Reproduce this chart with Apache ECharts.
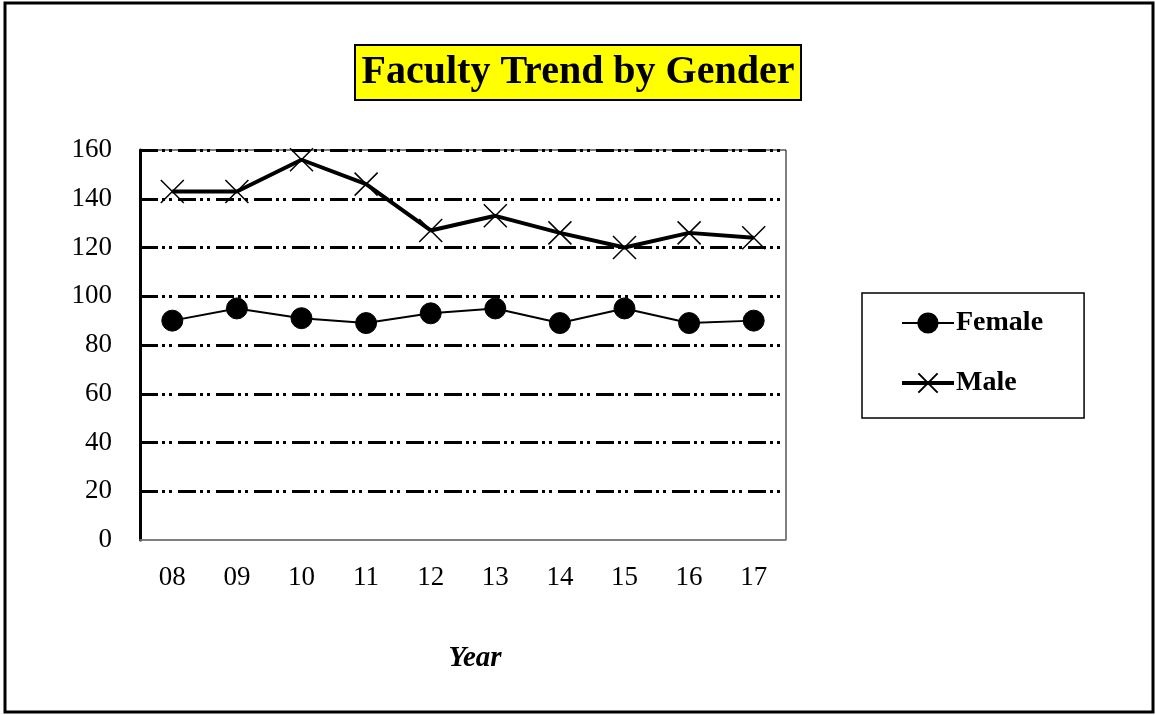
<!DOCTYPE html>
<html>
<head>
<meta charset="utf-8">
<title>Faculty Trend by Gender</title>
<script src="https://cdn.jsdelivr.net/npm/echarts@6/dist/echarts.min.js"></script>
<style>
	html, body { margin: 0; padding: 0; background: #ffffff; }
	.r_chart { width: 1156px; height: 715px; }
</style>
</head>
<body>
<div class="r_chart"></div>
<script>
/**
 * 数据
 * */
var years = ['08', '09', '10', '11', '12', '13', '14', '15', '16', '17'];
var female = [90, 95, 91, 89, 93, 95, 89, 95, 89, 90];
var male = [143, 143, 156, 146, 127, 133, 126, 120, 126, 124];
var seriesNames = ['Female', 'Male'];

var serif = "'Liberation Serif', 'Times New Roman', serif";

/**
 * 元素变量
 * */
var dom = {
	el: document.querySelector(".r_chart"),
}

var render = {
	myChart: echarts.init(dom.el),
}

//网格线: 点划线, 0 处不画
var gridColors = ['rgba(0,0,0,0)', '#000', '#000', '#000', '#000', '#000', '#000', '#000', '#000'];

/**
 * option
 * */
var option = {
	animation: false,
	backgroundColor: '#ffffff',
	title: {
		text: 'Faculty Trend by Gender',
		left: 'center',
		top: 45,
		padding: [6, 7, 6, 7],
		backgroundColor: '#ffff00',
		borderColor: '#000000',
		borderWidth: 2,
		textStyle: {
			fontFamily: serif,
			fontSize: 40,
			lineHeight: 43,
			fontWeight: 'bold',
			color: '#000000'
		}
	},
	legend: {
		orient: 'vertical',
		left: 862,
		top: 293,
		padding: [16, 41, 21, 38],
		itemWidth: 52,
		itemHeight: 24,
		itemGap: 32,
		backgroundColor: '#ffffff',
		borderColor: '#000000',
		borderWidth: 1.5,
		data: [{
			name: seriesNames[0],
			lineStyle: { width: 2 }
		}, {
			name: seriesNames[1],
			lineStyle: { width: 4 }
		}],
		textStyle: {
			fontFamily: serif,
			fontSize: 28,
			fontWeight: 'bold',
			color: '#000000',
			padding: [0, 0, 0, -3]
		}
	},
	grid: {
		left: 140,
		right: 370,
		top: 150,
		bottom: 175,
		show: true,
		borderColor: '#000000',
		borderWidth: 1
	},
	xAxis: {
		type: 'category',
		data: years,
		boundaryGap: true,
		axisLine: { lineStyle: { color: '#808080', width: 1.5 } },
		axisTick: { show: false },
		axisLabel: {
			fontFamily: serif,
			fontSize: 27,
			color: '#000000',
			margin: 24
		},
		splitLine: { show: false }
	},
	yAxis: {
		type: 'value',
		min: 0,
		max: 160,
		interval: 20,
		axisLine: { show: true, lineStyle: { color: '#000000', width: 3 } },
		axisTick: { show: false },
		axisLabel: {
			fontFamily: serif,
			fontSize: 27,
			color: '#000000',
			margin: 28
		},
		splitLine: {
			show: true,
			lineStyle: {
				color: gridColors,
				width: 3,
				type: [18, 4, 3, 4, 3, 6]
			}
		}
	},
	series: [{
		name: seriesNames[0],
		type: 'line',
		data: female,
		symbol: 'circle',
		symbolSize: 21,
		itemStyle: { color: '#000000', borderColor: '#000000', borderWidth: 1 },
		lineStyle: { color: '#000000', width: 2 },
		emphasis: { disabled: true },
		z: 3
	}, {
		name: seriesNames[1],
		type: 'line',
		data: male,
		symbol: 'path://M0,0L10,10M10,0L0,10',
		symbolSize: 23,
		itemStyle: { color: '#000000', borderColor: '#000000', borderWidth: 1.5 },
		lineStyle: { color: '#000000', width: 4 },
		emphasis: { disabled: true },
		z: 4
	}],
	graphic: [{
		//外边框
		type: 'rect',
		shape: { x: 5, y: 3, width: 1148, height: 709 },
		style: { fill: 'none', stroke: '#000000', lineWidth: 3 },
		silent: true
	}, {
		type: 'text',
		style: {
			x: 475,
			y: 659,
			text: 'Year',
			align: 'center',
			verticalAlign: 'middle',
			fontFamily: serif,
			fontSize: 29,
			fontWeight: 'bold',
			fontStyle: 'italic',
			fill: '#000000'
		}
	}]
};

render.myChart.setOption(option);
</script>
</body>
</html>
